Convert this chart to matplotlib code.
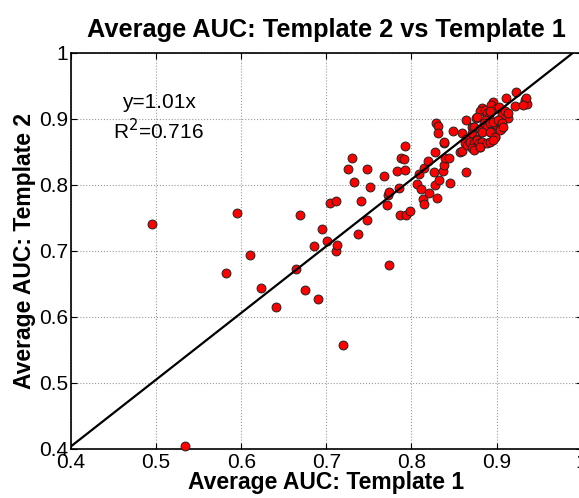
import matplotlib
matplotlib.use('Agg')
import matplotlib.pyplot as plt
import numpy as np

plt.rcParams['font.family'] = ['Liberation Sans', 'DejaVu Sans']

# per-image average AUC, template 1 (x) vs template 2 (y)
auc_t1 = [0.495, 0.534, 0.582, 0.595, 0.610, 0.623, 0.641, 0.664, 0.669, 0.675,
          0.686, 0.690, 0.695, 0.701, 0.704, 0.711, 0.711, 0.713, 0.720, 0.726,
          0.730, 0.732, 0.737, 0.741, 0.748, 0.748, 0.751, 0.768, 0.771, 0.772,
          0.774, 0.774, 0.783, 0.785, 0.787, 0.788, 0.791, 0.792, 0.792, 0.794,
          0.798, 0.806, 0.809, 0.811, 0.814, 0.815, 0.815, 0.820, 0.821, 0.828,
          0.827, 0.828, 0.830, 0.833, 0.837, 0.838, 0.838, 0.840, 0.844, 0.845,
          0.857, 0.864, 0.829, 0.831, 0.831, 0.838, 0.849, 0.860, 0.864, 0.864,
          0.863, 0.860, 0.871, 0.871, 0.872, 0.876, 0.883, 0.881, 0.896, 0.905,
          0.911, 0.922, 0.923, 0.934, 0.936, 0.935, 0.914, 0.906, 0.887, 0.877,
          0.931, 0.889, 0.891, 0.887, 0.887, 0.883, 0.877, 0.881, 0.871, 0.883,
          0.873, 0.881, 0.894, 0.900, 0.903, 0.894, 0.898, 0.894, 0.898, 0.898,
          0.906, 0.910, 0.914, 0.904, 0.900, 0.892, 0.873, 0.881, 0.885, 0.889,
          0.892, 0.896, 0.902, 0.906, 0.883, 0.892, 0.898, 0.904, 0.908, 0.865,
          0.869, 0.873, 0.877, 0.879, 0.883, 0.871, 0.873, 0.881, 0.889, 0.892,
          0.896]
auc_t2 = [0.740, 0.405, 0.666, 0.757, 0.694, 0.644, 0.615, 0.673, 0.755, 0.641,
          0.707, 0.627, 0.733, 0.715, 0.773, 0.775, 0.700, 0.709, 0.557, 0.824,
          0.841, 0.804, 0.726, 0.775, 0.747, 0.824, 0.797, 0.813, 0.770, 0.784,
          0.678, 0.789, 0.821, 0.795, 0.755, 0.841, 0.839, 0.858, 0.822, 0.755,
          0.760, 0.801, 0.817, 0.793, 0.778, 0.771, 0.826, 0.836, 0.788, 0.849,
          0.819, 0.800, 0.780, 0.808, 0.821, 0.830, 0.864, 0.841, 0.841, 0.803,
          0.850, 0.819, 0.893, 0.889, 0.879, 0.865, 0.882, 0.878, 0.898, 0.869,
          0.863, 0.851, 0.888, 0.878, 0.865, 0.901, 0.916, 0.911, 0.926, 0.885,
          0.931, 0.920, 0.940, 0.928, 0.923, 0.931, 0.901, 0.913, 0.913, 0.903,
          0.921, 0.908, 0.903, 0.898, 0.888, 0.880, 0.870, 0.865, 0.863, 0.863,
          0.857, 0.857, 0.921, 0.916, 0.918, 0.890, 0.888, 0.880, 0.878, 0.873,
          0.906, 0.911, 0.908, 0.895, 0.895, 0.911, 0.888, 0.885, 0.893, 0.888,
          0.893, 0.895, 0.898, 0.893, 0.880, 0.880, 0.873, 0.883, 0.888, 0.860,
          0.865, 0.863, 0.868, 0.863, 0.865, 0.855, 0.852, 0.857, 0.863, 0.865,
          0.868]

slope = 1.01
r2 = 0.716
xticks = [0.4, 0.5, 0.6, 0.7, 0.8, 0.9, 1.0]
xticklabels = ['0.4', '0.5', '0.6', '0.7', '0.8', '0.9', '1']
yticks = [0.4, 0.5, 0.6, 0.7, 0.8, 0.9, 1.0]
yticklabels = ['0.4', '0.5', '0.6', '0.7', '0.8', '0.9', '1']

fig = plt.figure(figsize=(5.79, 4.98), dpi=100)
ax = fig.add_axes([0.1226, 0.0984, 0.8819, 0.7958])

ax.plot(auc_t1, auc_t2, 'o', ms=6.4, mfc='red', mec='#222222', mew=0.7,
        clip_on=False, zorder=3)

fit_x = np.array([0.4, 1.0])
ax.plot(fit_x, slope * fit_x, '-', color='black', lw=1.6, zorder=4)

ax.set_xlim(0.4, 1.0)
ax.set_ylim(0.4, 1.0)
ax.set_xticks(xticks)
ax.set_xticklabels(xticklabels)
ax.set_yticks(yticks)
ax.set_yticklabels(yticklabels)
ax.tick_params(direction='in', top=True, right=True, length=4, width=0.8,
               labelsize=15, pad=2)
ax.tick_params(axis='x', pad=3)
ax.grid(True, linestyle=':', color='#9a9a9a', lw=0.8)
ax.set_axisbelow(True)
for sp in ax.spines.values():
    sp.set_linewidth(1.2)

ax.text(0.503, 0.924, 'y=%.2fx' % slope, ha='center', va='center', fontsize=15)
ax.text(0.503, 0.882, r'R$^2$=%.3f' % r2, ha='center', va='center', fontsize=15)

ax.set_title('Average AUC: Template 2 vs Template 1', fontsize=18.3,
             fontweight='bold', pad=11)
ax.set_xlabel('Average AUC: Template 1', fontsize=16.5, fontweight='bold',
              labelpad=-1)
ax.set_ylabel('Average AUC: Template 2', fontsize=16.5, fontweight='bold',
              labelpad=2)

fig.savefig('out.png', dpi=100)
